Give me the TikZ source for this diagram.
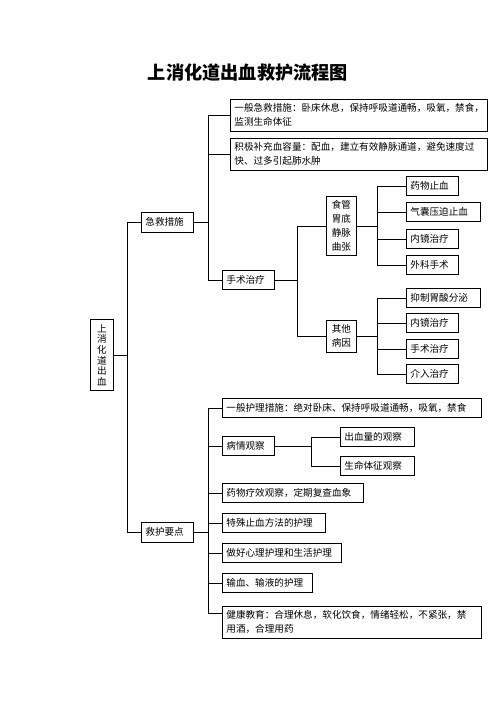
\documentclass[tikz,border=0pt]{standalone}
\usepackage{fontspec}
\setmainfont{Noto Sans CJK SC}
\usetikzlibrary{positioning}

\begin{document}
\begin{tikzpicture}[x=1pt, y=-1pt,
  box/.style={draw, rectangle, anchor=west, align=left, line width=0.8pt,
    inner xsep=4pt, inner ysep=3pt, minimum height=19.5pt,
    font=\fontsize{9.6}{14}\selectfont},
  e/.style={line width=0.8pt}
]
\useasboundingbox (0,0) rectangle (496,702);

% --- title ---
\node[font=\fontsize{18.2}{20}\selectfont\bfseries] (title) at (248,73) {上消化道出血救护流程图};

% --- root ---
\node[box, align=center, inner xsep=6.5pt, minimum width=23, minimum height=71,
  font=\fontsize{9.6}{10.6}\selectfont] (root) at (90,355) {上\\消\\化\\道\\出\\血};

% --- first branch: emergency ---
\node[box, text width=44, minimum height=20] (jj) at (141,222) {急救措施};
\node[box, text width=249, minimum height=32] (g1) at (230,115)
  {一般急救措施：卧床休息，保持呼吸道通畅，吸氧，禁食，\\监测生命体征};
\node[box, text width=249, minimum height=32] (g2) at (230,154)
  {积极补充血容量：配血，建立有效静脉通道，避免速度过\\快、过多引起肺水肿};
\node[box, text width=44] (ss) at (222,280) {手术治疗};

% varices and other causes
\node[box, align=center, text width=22, minimum height=59] (vz) at (326,226) {食管\\胃底\\静脉\\曲张};
\node[box, align=center, text width=22, minimum height=32] (qt) at (326,336) {其他\\病因};

\node[box, text width=44] (a1) at (406,186) {药物止血};
\node[box, text width=66] (a2) at (406,212) {气囊压迫止血};
\node[box, text width=44] (a3) at (406,239) {内镜治疗};
\node[box, text width=44] (a4) at (406,265) {外科手术};

\node[box, text width=66] (b1) at (406,298) {抑制胃酸分泌};
\node[box, text width=44] (b2) at (406,323) {内镜治疗};
\node[box, text width=44] (b3) at (406,349) {手术治疗};
\node[box, text width=44] (b4) at (406,374) {介入治疗};

% --- second branch: nursing ---
\node[box, text width=44, minimum height=20] (hl) at (141,532) {救护要点};
\node[box, text width=251] (n1) at (222,408) {一般护理措施：绝对卧床、保持呼吸道通畅，吸氧，禁食};
\node[box, text width=44] (n2) at (222,446) {病情观察};
\node[box, text width=66] (o1) at (340,437) {出血量的观察};
\node[box, text width=66] (o2) at (340,466) {生命体征观察};
\node[box, text width=133] (n3) at (222,493) {药物疗效观察，定期复查血象};
\node[box, text width=95] (n4) at (222,523) {特殊止血方法的护理};
\node[box, text width=111] (n5) at (222,553) {做好心理护理和生活护理};
\node[box, text width=82] (n6) at (222,583) {输血、输液的护理};
\node[box, text width=251, minimum height=32] (n7) at (222,622)
  {健康教育：合理休息，软化饮食，情绪轻松，不紧张，禁\\用酒，合理用药};

% --- connectors ---
\draw[e] (root.east) -- ++(14,0) |- (jj.west);
\draw[e] (root.east) -- ++(14,0) |- (hl.west);

\draw[e] (jj.east) -- ++(15,0) |- (g1.west);
\draw[e] (jj.east) -- ++(15,0) |- (g2.west);
\draw[e] (jj.east) -- ++(15,0) |- (ss.west);

\draw[e] (ss.east) -- ++(23,0) |- (vz.west);
\draw[e] (ss.east) -- ++(23,0) |- (qt.west);

\foreach \n in {a1,a2,a3,a4}
  \draw[e] (vz.east) -- ++(21,0) |- (\n.west);
\foreach \n in {b1,b2,b3,b4}
  \draw[e] (qt.east) -- ++(21,0) |- (\n.west);

\foreach \n in {n1,n2,n3,n4,n5,n6}
  \draw[e] (hl.east) -- ++(15,0) |- (\n.west);
\draw[e] (hl.east) -- ++(15,0) |- ([yshift=9pt]n7.west);

\draw[e] (n2.east) -- ++(37,0) |- (o1.west);
\draw[e] (n2.east) -- ++(37,0) |- (o2.west);

\end{tikzpicture}
\end{document}
